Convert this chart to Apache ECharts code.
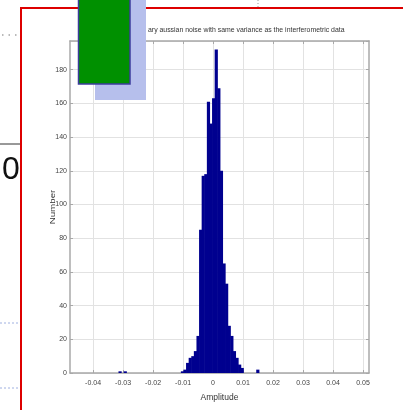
<!DOCTYPE html>
<html>
<head>
<meta charset="utf-8">
<script src="https://cdn.jsdelivr.net/npm/echarts@6/dist/echarts.min.js"></script>
<style>
    html, body { margin: 0; padding: 0; background: #fff; }
    #chart { width: 403px; height: 410px; }
</style>
</head>
<body>
<div id="chart"></div>
<script>
// histogram bins: centre amplitude and count
const amplitude = [
    -0.0310, -0.02927, -0.0102, -0.00933, -0.00847, -0.0076, -0.00673, -0.00587,
    -0.0050, -0.00413, -0.00327, -0.0024, -0.00153, -0.00067, 0.0002, 0.00107,
    0.00193, 0.0028, 0.00367, 0.00453, 0.0054, 0.00627, 0.00713, 0.0080,
    0.00887, 0.00973, 0.01493
];
const counts = [
    1, 1, 1, 2, 6, 9, 10, 13,
    22, 85, 117, 118, 161, 148, 163, 192,
    169, 120, 65, 53, 28, 22, 13, 9,
    5, 3, 2
];
const xTicks = [-0.04, -0.03, -0.02, -0.01, 0, 0.01, 0.02, 0.03, 0.04, 0.05];
const titleText = "ary aussian noise with same variance as the interferometric data";

const narrow = "'Liberation Sans Narrow', 'Arial Narrow', 'Liberation Sans', sans-serif";
const axisGray = "#a8a8a8";

const chart = echarts.init(document.getElementById("chart"));

function xFmt(v) {
    if (Math.abs(v) < 1e-9) return "0";
    return String(Math.round(v * 100) / 100);
}

const option = {
    backgroundColor: "#fff",
    animation: false,
    title: {
        text: titleText,
        left: 143,
        top: 22,
        textStyle: { fontFamily: narrow, fontSize: 6.9, fontWeight: "normal", color: "#333" }
    },
    grid: { left: 70, top: 41, width: 299, height: 332, outerBoundsMode: "none" },
    xAxis: [{
        type: "value",
        min: -0.0477,
        max: 0.0520,
        axisLine: { onZero: false, lineStyle: { color: axisGray, width: 1.5 } },
        axisTick: { inside: true, length: 3, customValues: xTicks, lineStyle: { color: axisGray } },
        axisLabel: {
            customValues: xTicks, formatter: xFmt, margin: 7,
            fontFamily: narrow, fontSize: 7, color: "#444"
        },
        splitLine: { show: true, lineStyle: { color: "#e2e2e2", width: 1 } },
        name: "Amplitude",
        nameLocation: "middle",
        nameGap: 20,
        nameTextStyle: { fontFamily: narrow, fontSize: 8.5, color: "#333" }
    }, {
        type: "value",
        position: "top",
        min: -0.0477,
        max: 0.0520,
        axisLine: { onZero: false, lineStyle: { color: axisGray, width: 1.5 } },
        axisTick: { inside: true, length: 3, customValues: xTicks, lineStyle: { color: axisGray } },
        axisLabel: { show: false },
        splitLine: { show: false }
    }],
    yAxis: [{
        type: "value",
        min: 0,
        max: 197,
        interval: 20,
        axisLine: { show: true, onZero: false, lineStyle: { color: axisGray, width: 1.5 } },
        axisTick: { show: true, inside: true, length: 3, lineStyle: { color: axisGray } },
        axisLabel: { showMaxLabel: false, margin: 3, fontFamily: narrow, fontSize: 7, color: "#444" },
        splitLine: { show: true, lineStyle: { color: "#e2e2e2", width: 1 } }
    }, {
        type: "value",
        position: "right",
        min: 0,
        max: 197,
        interval: 20,
        axisLine: { show: true, onZero: false, lineStyle: { color: axisGray, width: 1.5 } },
        axisTick: { show: true, inside: true, length: 3, lineStyle: { color: axisGray } },
        axisLabel: { show: false },
        splitLine: { show: false }
    }],
    series: [{
        type: "bar",
        xAxisIndex: 0,
        yAxisIndex: 0,
        barWidth: 3.2,
        data: amplitude.map((a, i) => [a, counts[i]]),
        itemStyle: { color: "#00008f" }
    }],
    graphic: [
        // slide decorations around the picture
        { type: "rect", shape: { x: 21, y: 8, width: 400, height: 420 },
          style: { fill: null, stroke: "#dd0000", lineWidth: 2 }, z: 100 },
        { type: "rect", shape: { x: 95, y: -2, width: 51, height: 102 },
          style: { fill: "#b6bfec" }, z: 101 },
        { type: "rect", shape: { x: 78.5, y: -2, width: 51.5, height: 86 },
          style: { fill: "#009000", stroke: "#3c3c9c", lineWidth: 1.5 }, z: 102 },
        { type: "line", shape: { x1: 0, y1: 144, x2: 20, y2: 144 },
          style: { stroke: "#333", lineWidth: 1 }, z: 100 },
        { type: "text", x: 2, y: 170, z: 100,
          style: { text: "0", font: "32px 'Liberation Sans', sans-serif", fill: "#111", verticalAlign: "middle" } },
        { type: "line", shape: { x1: 2, y1: 35, x2: 20, y2: 35 },
          style: { stroke: "#777", lineWidth: 1.2, lineDash: [1.5, 5] }, z: 100 },
        { type: "line", shape: { x1: 0, y1: 323, x2: 19, y2: 323 },
          style: { stroke: "#9fb0e0", lineWidth: 1, lineDash: [2, 2] }, z: 100 },
        { type: "line", shape: { x1: 0, y1: 388, x2: 19, y2: 388 },
          style: { stroke: "#9fb0e0", lineWidth: 1, lineDash: [2, 2] }, z: 100 },
        { type: "line", shape: { x1: 258, y1: 0, x2: 258, y2: 7 },
          style: { stroke: "#999", lineWidth: 1, lineDash: [1, 2] }, z: 100 },
        { type: "text", x: 53, y: 207, rotation: Math.PI / 2, scaleX: 1.5, z: 100,
          style: { text: "Number", font: "6.5px 'Liberation Sans', sans-serif", fill: "#333",
                   align: "center", verticalAlign: "middle" } }
    ]
};

chart.setOption(option);
</script>
</body>
</html>
